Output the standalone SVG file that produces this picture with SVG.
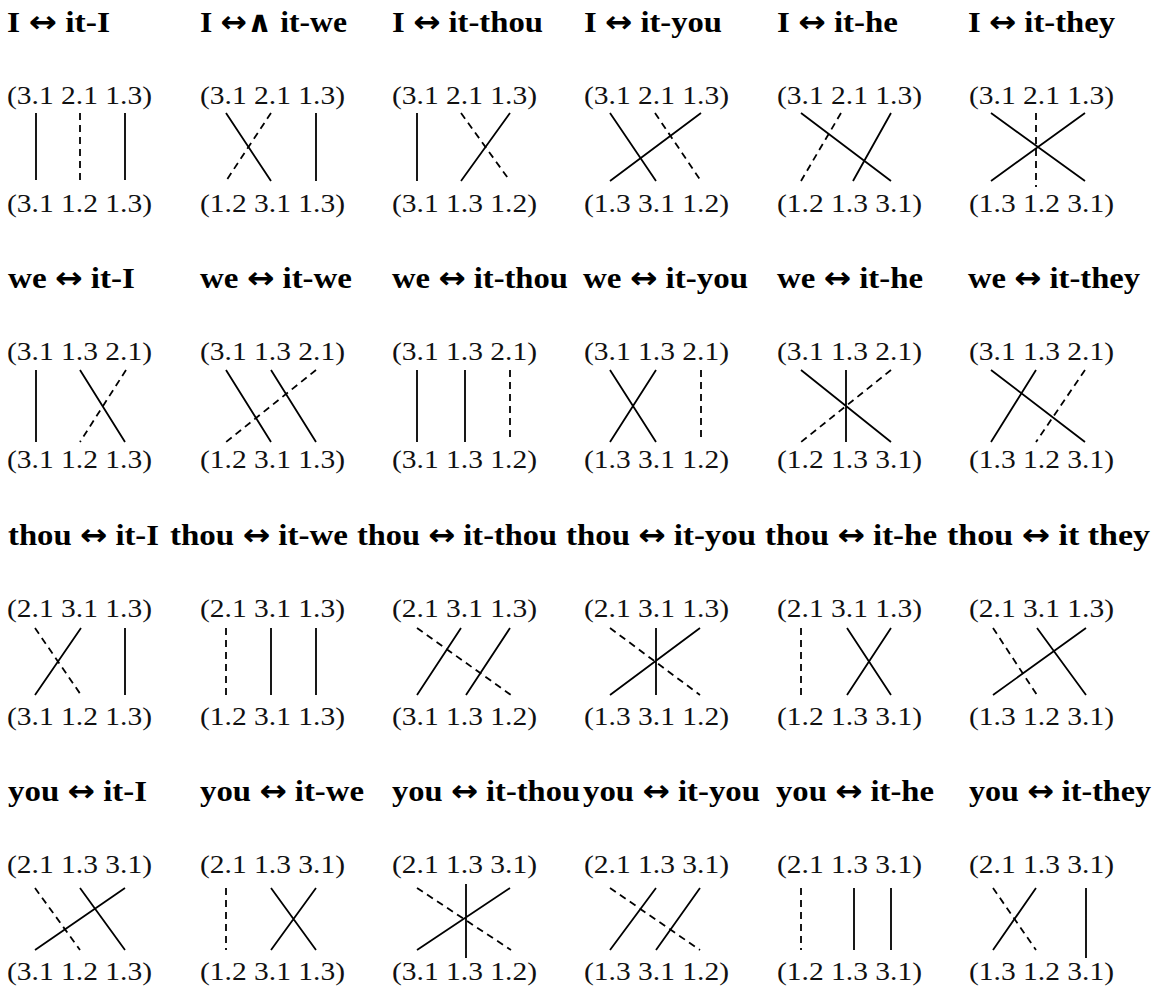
<svg xmlns="http://www.w3.org/2000/svg" width="1159" height="990" viewBox="0 0 1159 990">
<style>
.t{font-family:"Liberation Serif","Times New Roman",serif;font-weight:bold;font-size:30px;fill:#000}
.a{font-family:"DejaVu Sans",sans-serif;font-weight:bold}
.l{font-family:"Liberation Serif","Times New Roman",serif;font-size:25px;fill:#111}
.s{stroke:#000;stroke-width:1.8;fill:none}
.d{stroke:#000;stroke-width:1.8;fill:none;stroke-dasharray:7 5}
</style>
<rect width="1159" height="990" fill="#fff"/>
<g id="titles">
<text class="t" x="7" y="32" textLength="103" lengthAdjust="spacingAndGlyphs">I <tspan class="a">↔</tspan> it-I</text>
<text class="t" x="200" y="32" textLength="147" lengthAdjust="spacingAndGlyphs">I <tspan class="a">↔∧</tspan> it-we</text>
<text class="t" x="392" y="32" textLength="151" lengthAdjust="spacingAndGlyphs">I <tspan class="a">↔</tspan> it-thou</text>
<text class="t" x="584" y="32" textLength="138" lengthAdjust="spacingAndGlyphs">I <tspan class="a">↔</tspan> it-you</text>
<text class="t" x="777" y="32" textLength="121" lengthAdjust="spacingAndGlyphs">I <tspan class="a">↔</tspan> it-he</text>
<text class="t" x="968" y="32" textLength="147" lengthAdjust="spacingAndGlyphs">I <tspan class="a">↔</tspan> it-they</text>
<text class="t" x="8" y="288" textLength="127" lengthAdjust="spacingAndGlyphs">we <tspan class="a">↔</tspan> it-I</text>
<text class="t" x="200" y="288" textLength="152" lengthAdjust="spacingAndGlyphs">we <tspan class="a">↔</tspan> it-we</text>
<text class="t" x="392" y="288" textLength="176" lengthAdjust="spacingAndGlyphs">we <tspan class="a">↔</tspan> it-thou</text>
<text class="t" x="583" y="288" textLength="165" lengthAdjust="spacingAndGlyphs">we <tspan class="a">↔</tspan> it-you</text>
<text class="t" x="777" y="288" textLength="146" lengthAdjust="spacingAndGlyphs">we <tspan class="a">↔</tspan> it-he</text>
<text class="t" x="968" y="288" textLength="172" lengthAdjust="spacingAndGlyphs">we <tspan class="a">↔</tspan> it-they</text>
<text class="t" x="8" y="545" textLength="151" lengthAdjust="spacingAndGlyphs">thou <tspan class="a">↔</tspan> it-I</text>
<text class="t" x="170" y="545" textLength="178" lengthAdjust="spacingAndGlyphs">thou <tspan class="a">↔</tspan> it-we</text>
<text class="t" x="357" y="545" textLength="200" lengthAdjust="spacingAndGlyphs">thou <tspan class="a">↔</tspan> it-thou</text>
<text class="t" x="566" y="545" textLength="190" lengthAdjust="spacingAndGlyphs">thou <tspan class="a">↔</tspan> it-you</text>
<text class="t" x="765" y="545" textLength="172" lengthAdjust="spacingAndGlyphs">thou <tspan class="a">↔</tspan> it-he</text>
<text class="t" x="947" y="545" textLength="203" lengthAdjust="spacingAndGlyphs">thou <tspan class="a">↔</tspan> it they</text>
<text class="t" x="8" y="801" textLength="139" lengthAdjust="spacingAndGlyphs">you <tspan class="a">↔</tspan> it-I</text>
<text class="t" x="200" y="801" textLength="164" lengthAdjust="spacingAndGlyphs">you <tspan class="a">↔</tspan> it-we</text>
<text class="t" x="392" y="801" textLength="188" lengthAdjust="spacingAndGlyphs">you <tspan class="a">↔</tspan> it-thou</text>
<text class="t" x="583" y="801" textLength="177" lengthAdjust="spacingAndGlyphs">you <tspan class="a">↔</tspan> it-you</text>
<text class="t" x="776" y="801" textLength="158" lengthAdjust="spacingAndGlyphs">you <tspan class="a">↔</tspan> it-he</text>
<text class="t" x="969" y="801" textLength="182" lengthAdjust="spacingAndGlyphs">you <tspan class="a">↔</tspan> it-they</text>
</g>
<g id="r1c1"><text class="l" x="7" y="104" textLength="145" lengthAdjust="spacingAndGlyphs">(3.1 2.1 1.3)</text><text class="l" x="7" y="212" textLength="145" lengthAdjust="spacingAndGlyphs">(3.1 1.2 1.3)</text></g>
<g id="r1c2"><text class="l" x="200" y="104" textLength="145" lengthAdjust="spacingAndGlyphs">(3.1 2.1 1.3)</text><text class="l" x="200" y="212" textLength="145" lengthAdjust="spacingAndGlyphs">(1.2 3.1 1.3)</text></g>
<g id="r1c3"><text class="l" x="392" y="104" textLength="145" lengthAdjust="spacingAndGlyphs">(3.1 2.1 1.3)</text><text class="l" x="392" y="212" textLength="145" lengthAdjust="spacingAndGlyphs">(3.1 1.3 1.2)</text></g>
<g id="r1c4"><text class="l" x="584" y="104" textLength="145" lengthAdjust="spacingAndGlyphs">(3.1 2.1 1.3)</text><text class="l" x="584" y="212" textLength="145" lengthAdjust="spacingAndGlyphs">(1.3 3.1 1.2)</text></g>
<g id="r1c5"><text class="l" x="777" y="104" textLength="145" lengthAdjust="spacingAndGlyphs">(3.1 2.1 1.3)</text><text class="l" x="777" y="212" textLength="145" lengthAdjust="spacingAndGlyphs">(1.2 1.3 3.1)</text></g>
<g id="r1c6"><text class="l" x="969" y="104" textLength="145" lengthAdjust="spacingAndGlyphs">(3.1 2.1 1.3)</text><text class="l" x="969" y="212" textLength="145" lengthAdjust="spacingAndGlyphs">(1.3 1.2 3.1)</text></g>
<g id="r2c1"><text class="l" x="7" y="360" textLength="145" lengthAdjust="spacingAndGlyphs">(3.1 1.3 2.1)</text><text class="l" x="7" y="468" textLength="145" lengthAdjust="spacingAndGlyphs">(3.1 1.2 1.3)</text></g>
<g id="r2c2"><text class="l" x="200" y="360" textLength="145" lengthAdjust="spacingAndGlyphs">(3.1 1.3 2.1)</text><text class="l" x="200" y="468" textLength="145" lengthAdjust="spacingAndGlyphs">(1.2 3.1 1.3)</text></g>
<g id="r2c3"><text class="l" x="392" y="360" textLength="145" lengthAdjust="spacingAndGlyphs">(3.1 1.3 2.1)</text><text class="l" x="392" y="468" textLength="145" lengthAdjust="spacingAndGlyphs">(3.1 1.3 1.2)</text></g>
<g id="r2c4"><text class="l" x="584" y="360" textLength="145" lengthAdjust="spacingAndGlyphs">(3.1 1.3 2.1)</text><text class="l" x="584" y="468" textLength="145" lengthAdjust="spacingAndGlyphs">(1.3 3.1 1.2)</text></g>
<g id="r2c5"><text class="l" x="777" y="360" textLength="145" lengthAdjust="spacingAndGlyphs">(3.1 1.3 2.1)</text><text class="l" x="777" y="468" textLength="145" lengthAdjust="spacingAndGlyphs">(1.2 1.3 3.1)</text></g>
<g id="r2c6"><text class="l" x="969" y="360" textLength="145" lengthAdjust="spacingAndGlyphs">(3.1 1.3 2.1)</text><text class="l" x="969" y="468" textLength="145" lengthAdjust="spacingAndGlyphs">(1.3 1.2 3.1)</text></g>
<g id="r3c1"><text class="l" x="7" y="617" textLength="145" lengthAdjust="spacingAndGlyphs">(2.1 3.1 1.3)</text><text class="l" x="7" y="725" textLength="145" lengthAdjust="spacingAndGlyphs">(3.1 1.2 1.3)</text></g>
<g id="r3c2"><text class="l" x="200" y="617" textLength="145" lengthAdjust="spacingAndGlyphs">(2.1 3.1 1.3)</text><text class="l" x="200" y="725" textLength="145" lengthAdjust="spacingAndGlyphs">(1.2 3.1 1.3)</text></g>
<g id="r3c3"><text class="l" x="392" y="617" textLength="145" lengthAdjust="spacingAndGlyphs">(2.1 3.1 1.3)</text><text class="l" x="392" y="725" textLength="145" lengthAdjust="spacingAndGlyphs">(3.1 1.3 1.2)</text></g>
<g id="r3c4"><text class="l" x="584" y="617" textLength="145" lengthAdjust="spacingAndGlyphs">(2.1 3.1 1.3)</text><text class="l" x="584" y="725" textLength="145" lengthAdjust="spacingAndGlyphs">(1.3 3.1 1.2)</text></g>
<g id="r3c5"><text class="l" x="777" y="617" textLength="145" lengthAdjust="spacingAndGlyphs">(2.1 3.1 1.3)</text><text class="l" x="777" y="725" textLength="145" lengthAdjust="spacingAndGlyphs">(1.2 1.3 3.1)</text></g>
<g id="r3c6"><text class="l" x="969" y="617" textLength="145" lengthAdjust="spacingAndGlyphs">(2.1 3.1 1.3)</text><text class="l" x="969" y="725" textLength="145" lengthAdjust="spacingAndGlyphs">(1.3 1.2 3.1)</text></g>
<g id="r4c1"><text class="l" x="7" y="873" textLength="145" lengthAdjust="spacingAndGlyphs">(2.1 1.3 3.1)</text><text class="l" x="7" y="980" textLength="145" lengthAdjust="spacingAndGlyphs">(3.1 1.2 1.3)</text></g>
<g id="r4c2"><text class="l" x="200" y="873" textLength="145" lengthAdjust="spacingAndGlyphs">(2.1 1.3 3.1)</text><text class="l" x="200" y="980" textLength="145" lengthAdjust="spacingAndGlyphs">(1.2 3.1 1.3)</text></g>
<g id="r4c3"><text class="l" x="392" y="873" textLength="145" lengthAdjust="spacingAndGlyphs">(2.1 1.3 3.1)</text><text class="l" x="392" y="980" textLength="145" lengthAdjust="spacingAndGlyphs">(3.1 1.3 1.2)</text></g>
<g id="r4c4"><text class="l" x="584" y="873" textLength="145" lengthAdjust="spacingAndGlyphs">(2.1 1.3 3.1)</text><text class="l" x="584" y="980" textLength="145" lengthAdjust="spacingAndGlyphs">(1.3 3.1 1.2)</text></g>
<g id="r4c5"><text class="l" x="777" y="873" textLength="145" lengthAdjust="spacingAndGlyphs">(2.1 1.3 3.1)</text><text class="l" x="777" y="980" textLength="145" lengthAdjust="spacingAndGlyphs">(1.2 1.3 3.1)</text></g>
<g id="r4c6"><text class="l" x="969" y="873" textLength="145" lengthAdjust="spacingAndGlyphs">(2.1 1.3 3.1)</text><text class="l" x="969" y="980" textLength="145" lengthAdjust="spacingAndGlyphs">(1.3 1.2 3.1)</text></g>
<g id="connectors">
<path class="s" d="M36 113V180M125 113V180"/><path class="d" d="M80 113V180"/>
<path class="s" d="M226 113L271 181M316 113V181"/><path class="d" d="M271 113L226 181"/>
<path class="s" d="M417 113V181M510 113L461 181"/><path class="d" d="M461 113L510 181"/>
<path class="s" d="M610 113L656 181M701 113L610 181"/><path class="d" d="M655 113L701 181"/>
<path class="s" d="M801 113L891 181M891 113L853 181"/><path class="d" d="M841 113L801 181"/>
<path class="s" d="M991 113L1085 181M1085 113L991 181"/><path class="d" d="M1036 113V187"/>
<path class="s" d="M36 370V442M80 370L125 442"/><path class="d" d="M126 370L80 442"/>
<path class="s" d="M226 370L271 442M271 370L316 442"/><path class="d" d="M316 370L226 442"/>
<path class="s" d="M417 370V442M465 370V442"/><path class="d" d="M510 370V442"/>
<path class="s" d="M610 370L656 442M656 370L610 442"/><path class="d" d="M701 370V442"/>
<path class="s" d="M801 370L891 442M846 370V442"/><path class="d" d="M891 370L801 442"/>
<path class="s" d="M991 370L1085 442M1036 370L991 442"/><path class="d" d="M1085 370L1036 442"/>
<path class="s" d="M81 628L35 695M125 628V695"/><path class="d" d="M35 628L81 695"/>
<path class="s" d="M271 628V695M316 628V695"/><path class="d" d="M226 628V695"/>
<path class="s" d="M461 628L417 695M510 628L466 695"/><path class="d" d="M417 628L511 695"/>
<path class="s" d="M656 628V695M700 628L610 695"/><path class="d" d="M610 628L700 695"/>
<path class="s" d="M847 628L891 695M891 628L847 695"/><path class="d" d="M801 628V695"/>
<path class="s" d="M1037 628L1086 695M1086 628L993 695"/><path class="d" d="M993 628L1037 695"/>
<path class="s" d="M80 888L125 950M125 888L35 950"/><path class="d" d="M35 888L80 950"/>
<path class="s" d="M271 888L316 950M316 888L271 950"/><path class="d" d="M226 888V950"/>
<path class="s" d="M466 884V958M510 888L417 950"/><path class="d" d="M417 888L511 950"/>
<path class="s" d="M656 888L610 950M700 888L656 950"/><path class="d" d="M610 888L700 950"/>
<path class="s" d="M854 888V950M891 888V950"/><path class="d" d="M801 888V950"/>
<path class="s" d="M1036 888L993 950M1086 888V958"/><path class="d" d="M993 888L1036 950"/>
</g>
</svg>
